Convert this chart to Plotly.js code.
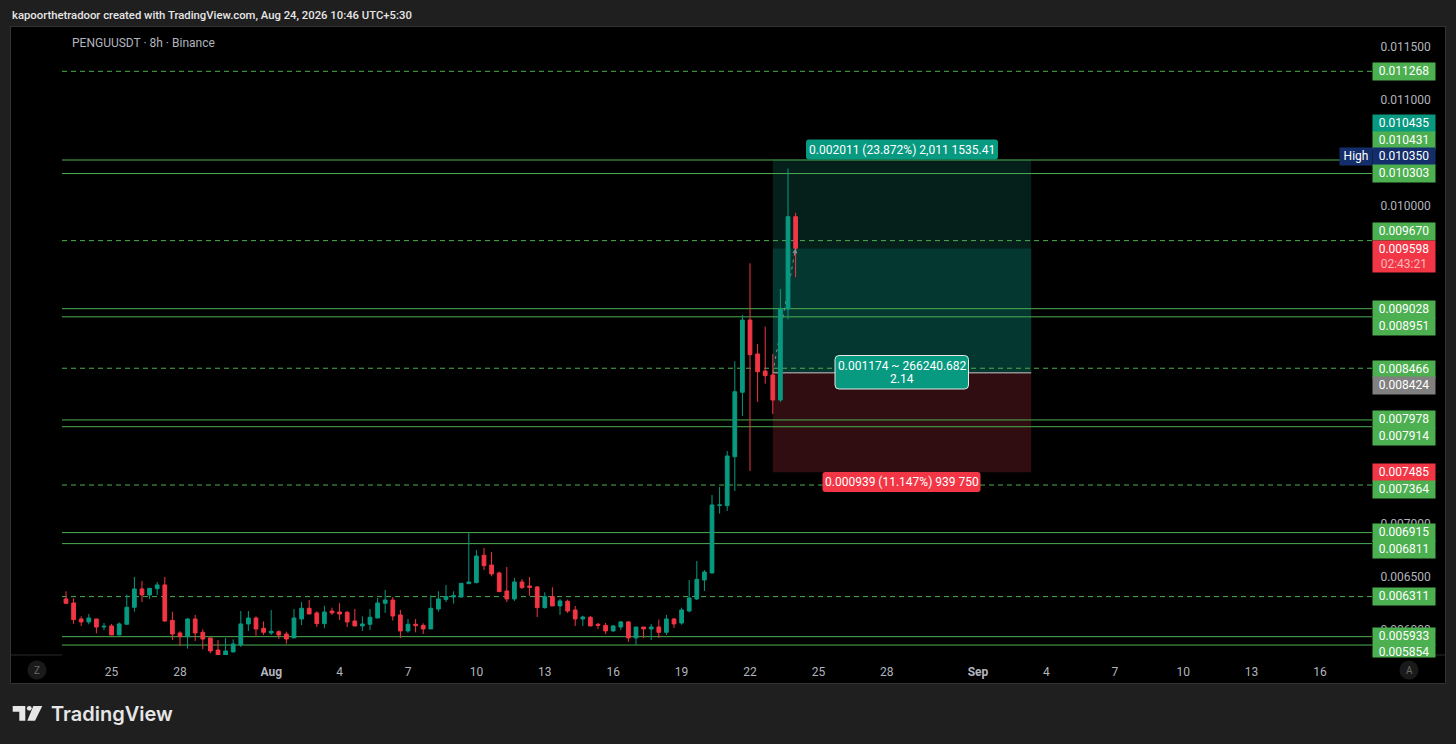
<!DOCTYPE html>
<html>
<head>
<meta charset="utf-8">
<script src="https://cdn.plot.ly/plotly-3.0.1.min.js"></script>
<style>html,body{margin:0;padding:0;background:#1f1f1f;overflow:hidden}</style>
</head>
<body>
<div id="graphDiv" style="width:1456px;height:744px"></div>
<script>
// 8h candles, first bar is Jul 23 00:00
const firstBar = Date.UTC(2026, 6, 23);
const barStep = 8 * 3600 * 1000;

const opens = [0.006289,0.006251,0.006100,0.006072,0.006100,0.006024,0.006034,0.005949,0.006050,0.006210,0.006383,0.006326,0.006386,0.006421,0.006087,0.005968,0.005933,0.006100,0.005974,0.005921,0.005807,0.005754,0.005789,0.005855,0.006053,0.006109,0.006012,0.005968,0.005980,0.005958,0.005921,0.006100,0.006201,0.006157,0.006056,0.006175,0.006166,0.006163,0.006081,0.006034,0.006050,0.006109,0.006248,0.006279,0.006138,0.005987,0.006050,0.006040,0.006006,0.006194,0.006285,0.006308,0.006308,0.006433,0.006443,0.006701,0.006609,0.006534,0.006364,0.006289,0.006449,0.006411,0.006402,0.006207,0.006311,0.006223,0.006267,0.006185,0.006100,0.006116,0.006050,0.006040,0.005987,0.006024,0.006072,0.005921,0.006024,0.006006,0.006024,0.005974,0.006100,0.006062,0.006175,0.006289,0.006468,0.006534,0.007172,0.007169,0.007631,0.008239,0.008921,0.008601,0.008440,0.008402,0.008166,0.009025,0.009896];
const highs = [0.006361,0.006295,0.006125,0.006147,0.006100,0.006062,0.006053,0.006068,0.006330,0.006496,0.006458,0.006389,0.006449,0.006496,0.006169,0.005984,0.006106,0.006138,0.006002,0.005921,0.005902,0.005921,0.005908,0.006175,0.006175,0.006125,0.006078,0.006185,0.005993,0.005980,0.006194,0.006260,0.006279,0.006172,0.006223,0.006207,0.006248,0.006175,0.006194,0.006125,0.006194,0.006298,0.006374,0.006308,0.006185,0.006100,0.006100,0.006059,0.006323,0.006361,0.006421,0.006361,0.006440,0.006914,0.006751,0.006770,0.006732,0.006547,0.006591,0.006487,0.006477,0.006496,0.006411,0.006352,0.006399,0.006289,0.006282,0.006223,0.006131,0.006128,0.006062,0.006062,0.006043,0.006081,0.006081,0.006024,0.006024,0.006053,0.006094,0.006138,0.006109,0.006207,0.006468,0.006647,0.006562,0.007270,0.007346,0.007685,0.008532,0.008968,0.009456,0.008695,0.008858,0.008601,0.009214,0.010350,0.009934];
const lows = [0.006241,0.006056,0.006034,0.006050,0.005965,0.005996,0.005949,0.005949,0.006050,0.006169,0.006260,0.006289,0.006326,0.006072,0.005902,0.005845,0.005820,0.005892,0.005814,0.005776,0.005754,0.005754,0.005785,0.005836,0.005987,0.005943,0.005949,0.005949,0.005911,0.005867,0.005921,0.006043,0.006147,0.006024,0.006012,0.006138,0.006090,0.006024,0.006034,0.005987,0.005996,0.006109,0.006157,0.006084,0.005921,0.005971,0.005974,0.005958,0.006006,0.006169,0.006260,0.006245,0.006301,0.006430,0.006436,0.006562,0.006502,0.006358,0.006260,0.006270,0.006383,0.006320,0.006119,0.006197,0.006223,0.006138,0.006157,0.006034,0.006034,0.006034,0.006006,0.005958,0.005980,0.005996,0.005883,0.005855,0.005921,0.005902,0.005921,0.005949,0.006015,0.006046,0.006163,0.006279,0.006364,0.006530,0.007094,0.007119,0.007308,0.008015,0.007497,0.008148,0.008320,0.008034,0.008148,0.008928,0.009324];
const closes = [0.006248,0.006094,0.006072,0.006109,0.006024,0.006031,0.005949,0.006053,0.006210,0.006383,0.006326,0.006389,0.006421,0.006081,0.005958,0.005933,0.006100,0.005968,0.005911,0.005798,0.005754,0.005798,0.005864,0.006053,0.006109,0.006006,0.005974,0.005984,0.005949,0.005911,0.006109,0.006201,0.006147,0.006056,0.006166,0.006157,0.006147,0.006072,0.006034,0.006053,0.006116,0.006251,0.006279,0.006128,0.005987,0.006050,0.006037,0.006006,0.006201,0.006289,0.006311,0.006320,0.006436,0.006449,0.006694,0.006603,0.006525,0.006358,0.006289,0.006449,0.006396,0.006399,0.006207,0.006311,0.006223,0.006270,0.006175,0.006100,0.006119,0.006034,0.006040,0.005987,0.006034,0.006072,0.005921,0.006024,0.006006,0.006024,0.005974,0.006100,0.006053,0.006185,0.006298,0.006474,0.006543,0.007176,0.007176,0.007638,0.008245,0.008921,0.008594,0.008433,0.008396,0.008166,0.009025,0.009896,0.009598];

// horizontal levels drawn across the chart
const solidLevels = [0.010431,0.010303,0.009028,0.008951,0.007978,0.007914,0.006915,0.006811,0.005933,0.005854];
const dashedLevels = [0.011268,0.009670,0.008466,0.007364,0.006311];
const levelStart = '2026-07-22 19:48';

// long position tool
const positionStart = '2026-08-23 00:00';
const positionEnd = '2026-09-03 08:00';
const targetPrice = 0.010435;
const entryPrice = 0.008424;
const stopPrice = 0.007485;
const lastPrice = 0.009598;

// price scale labels: value, colour, pixels moved up so they do not overlap
const labelPrices = [0.011268,0.010435,0.010431,0.010350,0.010303,0.009670,0.009028,0.008951,0.008466,0.008424,0.007978,0.007914,0.007485,0.007364,0.006915,0.006811,0.006311,0.005933];
const labelColors = ['#4caf50','#089981','#4caf50','#142e6b','#4caf50','#4caf50','#4caf50','#4caf50','#4caf50','#808080','#4caf50','#4caf50','#f23645','#4caf50','#4caf50','#4caf50','#4caf50','#4caf50'];
const labelShifts = [0,36,20,12,0,9,-1,-10,-1,-13,0,-10,0,-4,0,-6,0,0];

// only these round prices show on the scale, the others are hidden by the tags
const priceTicks = [0.0115,0.011,0.01,0.007,0.0065,0.006];

const timeTicks = ['2026-07-25','2026-07-28','2026-08-01','2026-08-04','2026-08-07','2026-08-10','2026-08-13','2026-08-16','2026-08-19','2026-08-22','2026-08-25','2026-08-28','2026-09-01','2026-09-04','2026-09-07','2026-09-10','2026-09-13','2026-09-16'];
const timeLabels = ['25','28','<b>Aug</b>','4','7','10','13','16','19','22','25','28','<b>Sep</b>','4','7','10','13','16'];

const times = opens.map((_, i) => new Date(firstBar + i * barStep).toISOString());

const fontName = 'Roboto, sans-serif';
const rangeEnd = '2026-09-18 06:43';
const L = 11, R = 1372, T = 27, B = 655;
const px = (x) => (x - L) / (R - L);
const py = (y) => (B - y) / (B - T);

function pxRect(x0, y0, x1, y1, fill, line) {
	return {
		type: 'rect', xref: 'paper', yref: 'paper', layer: 'below',
		x0: px(x0), x1: px(x1), y0: py(y0), y1: py(y1),
		fillcolor: fill, line: line || { width: 0 },
	};
}

function pxLine(x0, y0, x1, y1, color) {
	return {
		type: 'line', xref: 'paper', yref: 'paper', layer: 'below',
		x0: px(x0), x1: px(x1), y0: py(y0), y1: py(y1),
		line: { color: color, width: 1 },
	};
}

// rounded box for the position tool labels
function roundBox(x0, y0, x1, y1, r, fill, lineColor) {
	const p = (x, y) => px(x) + ',' + py(y);
	const path = 'M' + p(x0 + r, y0) + ' L' + p(x1 - r, y0) + ' Q' + p(x1, y0) + ' ' + p(x1, y0 + r) +
		' L' + p(x1, y1 - r) + ' Q' + p(x1, y1) + ' ' + p(x1 - r, y1) +
		' L' + p(x0 + r, y1) + ' Q' + p(x0, y1) + ' ' + p(x0, y1 - r) +
		' L' + p(x0, y0 + r) + ' Q' + p(x0, y0) + ' ' + p(x0 + r, y0) + ' Z';
	return {
		type: 'path', xref: 'paper', yref: 'paper', layer: 'above', path: path,
		fillcolor: fill, line: lineColor ? { color: lineColor, width: 1 } : { width: 0 },
	};
}

function zone(y0, y1, fill) {
	return {
		type: 'rect', xref: 'x', yref: 'y', layer: 'below',
		x0: positionStart, x1: positionEnd, y0: y0, y1: y1,
		fillcolor: fill, line: { width: 0 },
	};
}

function levelLine(price, dash) {
	return {
		type: 'line', xref: 'x', yref: 'y', layer: 'below',
		x0: levelStart, x1: rangeEnd, y0: price, y1: price,
		line: { color: '#4caf50', width: 1, dash: dash },
	};
}

const shapes = [
	// frame around the black chart area
	pxRect(10.5, 26.5, 1445.5, 683.5, '#000000', { color: '#333333', width: 1 }),
	pxLine(11, 655, 62, 655, '#2b2b2b'),
	pxLine(1372, 655, 1445, 655, '#2b2b2b'),
	zone(lastPrice, targetPrice, '#051f1a'),
	zone(entryPrice, lastPrice, '#04372f'),
	zone(stopPrice, entryPrice, '#300d11'),
	{
		type: 'line', xref: 'x', yref: 'y', layer: 'below',
		x0: positionStart, x1: times[96], y0: entryPrice, y1: lastPrice,
		line: { color: '#8a8a8a', width: 1, dash: '3px,4px' },
	},
	// Z and A buttons
	{ type: 'circle', xref: 'paper', yref: 'paper', x0: px(27.5), x1: px(46.5), y0: py(660.5), y1: py(679.5), fillcolor: '#1a1a1a', line: { width: 0 } },
	{ type: 'circle', xref: 'paper', yref: 'paper', x0: px(1399.5), x1: px(1418.5), y0: py(660.5), y1: py(679.5), fillcolor: '#1a1a1a', line: { width: 0 } },
	// logo
	{
		type: 'path', xref: 'paper', yref: 'paper', fillcolor: '#e6e6e6', line: { width: 0 },
		path: 'M' + px(12.7) + ',' + py(706) + ' L' + px(25.3) + ',' + py(706) + ' L' + px(25.3) + ',' + py(720.7) +
			' L' + px(19.3) + ',' + py(720.7) + ' L' + px(19.3) + ',' + py(711.7) + ' L' + px(12.7) + ',' + py(711.7) + ' Z',
	},
	{ type: 'circle', xref: 'paper', yref: 'paper', x0: px(26.9), x1: px(31.7), y0: py(705.9), y1: py(710.7), fillcolor: '#e6e6e6', line: { width: 0 } },
	{
		type: 'path', xref: 'paper', yref: 'paper', fillcolor: '#e6e6e6', line: { width: 0 },
		path: 'M' + px(33.3) + ',' + py(706) + ' L' + px(42.3) + ',' + py(706) + ' L' + px(35) + ',' + py(720.7) +
			' L' + px(27.3) + ',' + py(720.7) + ' Z',
	},
	// position tool labels
	roundBox(806, 139.5, 998, 159.5, 3, '#089981'),
	roundBox(835, 355.5, 968.5, 389, 4, '#089981', '#e8e8e8'),
	roundBox(822.5, 472, 980.5, 492, 3, '#f23645'),
];
solidLevels.forEach((p) => shapes.push(levelLine(p, 'solid')));
dashedLevels.forEach((p) => shapes.push(levelLine(p, '5px,4px')));
// entry line sits on top of the zones and the levels
shapes.push({
	type: 'line', xref: 'x', yref: 'y', layer: 'below',
	x0: positionStart, x1: positionEnd, y0: entryPrice, y1: entryPrice,
	line: { color: '#8f8f8f', width: 1.5 },
});

function plainText(x, y, text, size, color, extra) {
	return Object.assign({
		xref: 'paper', yref: 'paper', x: px(x), y: py(y), text: text, showarrow: false,
		xanchor: 'center', yanchor: 'middle', borderpad: 0,
		font: { family: fontName, size: size, color: color },
	}, extra || {});
}

const scaleX = px(1404);

const annotations = [
	plainText(11, 15, 'kapoorthetradoor created with TradingView.com, Aug 24, 2026 10:46 UTC+5:30', 11.3, '#e6e6e6', { xanchor: 'left', font: { family: fontName, size: 11.3, color: '#e6e6e6', weight: 500 } }),
	plainText(71, 43, 'PENGUUSDT · 8h · Binance', 12, '#b2b5be', { xanchor: 'left' }),
	plainText(902, 149.5, '0.002011 (23.872%) 2,011 1535.41', 12, '#ffffff'),
	plainText(902, 365.5, '0.001174 ~ 266240.682', 12, '#ffffff'),
	plainText(902, 378.5, '2.14', 12, '#ffffff'),
	plainText(901.5, 482, '0.000939 (11.147%) 939 750', 12, '#ffffff'),
	plainText(37, 670, 'Z', 10, '#6a6a6a'),
	plainText(1409, 670, 'A', 10, '#6a6a6a'),
	plainText(50, 713.5, 'TradingView', 21, '#e6e6e6', { xanchor: 'left', font: { family: 'Inter, sans-serif', size: 20, color: '#e6e6e6', weight: 600 } }),
	plainText(1356, 157, 'High', 12, '#ffffff', { bgcolor: '#142e6b', width: 32, height: 16.5 }),
];

labelPrices.forEach((p, i) => {
	annotations.push({
		xref: 'paper', yref: 'y', x: scaleX, y: p, yshift: labelShifts[i],
		text: p.toFixed(6), showarrow: false, xanchor: 'center', yanchor: 'middle',
		width: 62, height: 16.5, borderpad: 0, bgcolor: labelColors[i],
		font: { family: fontName, size: 12, color: '#ffffff' },
	});
});

// current price with the bar countdown
annotations.push({
	xref: 'paper', yref: 'y', x: scaleX, y: lastPrice, yshift: -8,
	text: lastPrice.toFixed(6) + '<br><span style="color:#f7b6bc">02:43:21</span>', showarrow: false,
	xanchor: 'center', yanchor: 'middle', width: 62, height: 31, borderpad: 0, bgcolor: '#f23645',
	font: { family: fontName, size: 12, color: '#ffffff' },
});

// bottom label runs into the time axis and gets cut off
annotations.push({
	xref: 'paper', yref: 'y', x: scaleX, y: 0.005854, yshift: 1.5,
	text: '0.005854', showarrow: false, xanchor: 'center', yanchor: 'top', valign: 'top',
	width: 62, height: 11.5, borderpad: 0, bgcolor: '#4caf50',
	font: { family: fontName, size: 12, color: '#ffffff' },
});

// small head on the dashed path of the position tool
annotations.push({
	xref: 'x', yref: 'y', x: times[96], y: lastPrice, text: '', showarrow: true,
	ax: -1, ay: 7, arrowhead: 2, arrowsize: 1, arrowwidth: 1, arrowcolor: '#8a8a8a',
});

const candles = {
	type: 'candlestick',
	x: times,
	open: opens,
	high: highs,
	low: lows,
	close: closes,
	width: 0.72 * barStep,
	whiskerwidth: 0,
	hoverinfo: 'skip',
	increasing: { line: { color: '#089981', width: 1 }, fillcolor: '#089981' },
	decreasing: { line: { color: '#f23645', width: 1 }, fillcolor: '#f23645' },
};

const layout = {
	width: 1456,
	height: 744,
	margin: { l: L, r: 1456 - R, t: T, b: 744 - B, pad: 0 },
	paper_bgcolor: '#1f1f1f',
	plot_bgcolor: 'rgba(0,0,0,0)',
	showlegend: false,
	font: { family: fontName, size: 12, color: '#b2b5be' },
	xaxis: {
		type: 'date',
		range: ['2026-07-20 14:07', rangeEnd],
		rangeslider: { visible: false },
		showgrid: false,
		zeroline: false,
		showline: false,
		tickmode: 'array',
		tickvals: timeTicks,
		ticktext: timeLabels,
		ticks: 'outside',
		ticklen: 6,
		tickcolor: 'rgba(0,0,0,0)',
		tickfont: { family: fontName, size: 12, color: '#b2b5be' },
	},
	yaxis: {
		side: 'right',
		range: [0.005760, 0.011686],
		tickmode: 'array',
		tickvals: priceTicks,
		tickformat: '.6f',
		showgrid: false,
		zeroline: false,
		showline: false,
		ticks: 'outside',
		ticklen: 5,
		tickcolor: 'rgba(0,0,0,0)',
		tickfont: { family: fontName, size: 12, color: '#b2b5be' },
	},
	shapes: shapes,
	annotations: annotations,
};

Plotly.newPlot('graphDiv', [candles], layout, { displayModeBar: false, staticPlot: true });
</script>
</body>
</html>
